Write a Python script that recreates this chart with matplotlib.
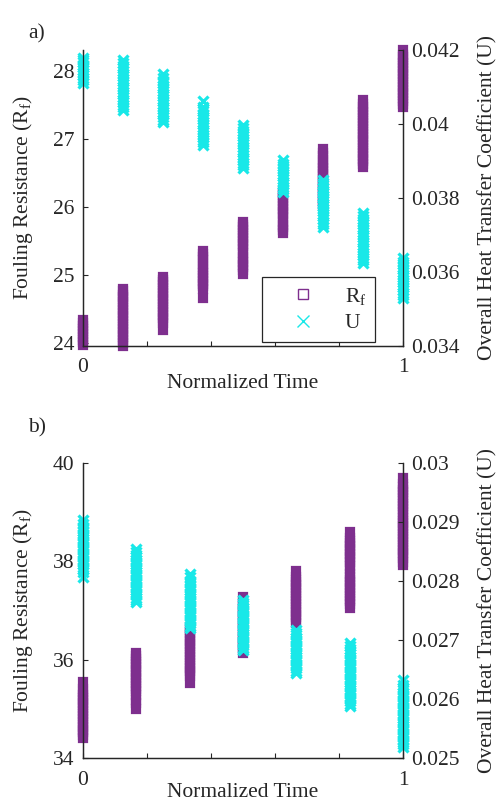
import numpy as np
import matplotlib
matplotlib.use('Agg')
import matplotlib.pyplot as plt
from matplotlib.lines import Line2D
from matplotlib.ticker import FuncFormatter

plt.rcParams['font.family'] = ['Liberation Serif', 'DejaVu Serif']
plt.rcParams['mathtext.fontset'] = 'custom'
plt.rcParams['mathtext.rm'] = 'Liberation Serif'
plt.rcParams['mathtext.it'] = 'Liberation Serif:italic'
plt.rcParams['font.size'] = 15.5

purple = '#7E2F8E'
cyan = '#19E8E8'
txt = '#262626'

# ------------ data panel a ------------ #
times_a = [0, 0.125, 0.25, 0.375, 0.5, 0.625, 0.75, 0.875, 1.0]

rf_a = [
    [23.97, 24.01, 24.05, 24.09, 24.13, 24.17, 24.21, 24.25, 24.29, 24.33],
    [23.96, 24.00, 24.04, 24.08, 24.12, 24.16, 24.20, 24.24, 24.28, 24.32, 24.36, 24.40, 24.44,
     24.48, 24.52, 24.56, 24.60, 24.64, 24.68, 24.71, 24.76, 24.79],
    [24.19, 24.29, 24.33, 24.37, 24.41, 24.45, 24.49, 24.53, 24.57, 24.61, 24.65, 24.69, 24.73,
     24.77, 24.81, 24.85, 24.89, 24.92, 24.97],
    [24.66, 24.79, 24.83, 24.87, 24.91, 24.95, 24.99, 25.03, 25.07, 25.12, 25.16, 25.22, 25.26,
     25.31, 25.35],
    [25.01, 25.07, 25.11, 25.15, 25.19, 25.23, 25.27, 25.33, 25.38, 25.42, 25.46, 25.50, 25.54,
     25.58, 25.62, 25.66, 25.70, 25.73, 25.78],
    [25.62, 25.66, 25.70, 25.74, 25.78, 25.85, 25.89, 25.93, 25.97, 26.01, 26.05, 26.09, 26.13,
     26.17, 26.21, 26.24],
    [26.01, 26.05, 26.09, 26.13, 26.17, 26.21, 26.25, 26.29, 26.33, 26.37, 26.41, 26.45, 26.49,
     26.53, 26.57, 26.61, 26.65, 26.69, 26.75, 26.80, 26.85],
    [26.59, 26.63, 26.67, 26.71, 26.75, 26.79, 26.83, 26.87, 26.91, 26.95, 26.99, 27.03, 27.07,
     27.11, 27.15, 27.19, 27.23, 27.27, 27.31, 27.35, 27.39, 27.43, 27.47, 27.52, 27.57],
    [27.47, 27.51, 27.56, 27.60, 27.64, 27.68, 27.72, 27.76, 27.80, 27.84, 27.88, 27.92, 27.96,
     28.00, 28.04, 28.08, 28.12, 28.16, 28.20, 28.24, 28.31],
]

u_a = [
    [0.04111, 0.04118, 0.04125, 0.04132, 0.04139, 0.04146, 0.04153, 0.04160, 0.04167, 0.04173,
     0.04178],
    [0.04038, 0.04045, 0.04052, 0.04059, 0.04066, 0.04073, 0.04080, 0.04087, 0.04094, 0.04101,
     0.04108, 0.04115, 0.04122, 0.04129, 0.04136, 0.04143, 0.04150, 0.04157, 0.04164, 0.04173],
    [0.04005, 0.04012, 0.04019, 0.04026, 0.04033, 0.04040, 0.04047, 0.04054, 0.04061, 0.04068,
     0.04075, 0.04082, 0.04089, 0.04096, 0.04103, 0.04110, 0.04117, 0.04124, 0.04135],
    [0.03943, 0.03950, 0.03957, 0.03964, 0.03971, 0.03978, 0.03985, 0.03992, 0.03999, 0.04006,
     0.04013, 0.04020, 0.04027, 0.04034, 0.04041, 0.04047, 0.04062],
    [0.03881, 0.03888, 0.03895, 0.03902, 0.03909, 0.03916, 0.03923, 0.03930, 0.03937, 0.03946,
     0.03953, 0.03960, 0.03967, 0.03974, 0.03981, 0.03988, 0.03997],
    [0.03816, 0.03823, 0.03830, 0.03837, 0.03844, 0.03851, 0.03858, 0.03865, 0.03872, 0.03879,
     0.03886, 0.03893, 0.03903],
    [0.03722, 0.03729, 0.03736, 0.03743, 0.03750, 0.03757, 0.03764, 0.03771, 0.03778, 0.03785,
     0.03792, 0.03799, 0.03806, 0.03813, 0.03820, 0.03827, 0.03834, 0.03841, 0.03849],
    [0.03624, 0.03631, 0.03638, 0.03645, 0.03652, 0.03659, 0.03666, 0.03673, 0.03680, 0.03687,
     0.03694, 0.03701, 0.03708, 0.03715, 0.03722, 0.03729, 0.03736, 0.03743, 0.03750, 0.03760],
    [0.03530, 0.03537, 0.03544, 0.03551, 0.03558, 0.03565, 0.03572, 0.03579, 0.03586, 0.03593,
     0.03600, 0.03607, 0.03614, 0.03621, 0.03628, 0.03638],
]

# ------------ data panel b ------------ #
times_b = [0, 0.1667, 0.3333, 0.5, 0.6667, 0.8333, 1.0]

rf_b = [
    [34.41, 34.46, 34.52, 34.57, 34.63, 34.68, 34.74, 34.79, 34.85, 34.90, 34.96, 35.01, 35.07,
     35.12, 35.18, 35.23, 35.29, 35.34, 35.40, 35.55],
    [35.00, 35.11, 35.17, 35.29, 35.36, 35.41, 35.47, 35.52, 35.58, 35.63, 35.69, 35.74, 35.80,
     35.85, 35.91, 35.96, 36.02, 36.07, 36.14],
    [35.53, 35.66, 35.72, 35.77, 35.83, 35.88, 35.94, 35.99, 36.05, 36.10, 36.16, 36.21, 36.27,
     36.32, 36.38, 36.43, 36.49, 36.54, 36.60, 36.66],
    [36.14, 36.20, 36.25, 36.31, 36.36, 36.42, 36.47, 36.53, 36.58, 36.64, 36.69, 36.75, 36.80,
     36.86, 36.91, 36.97, 37.02, 37.08, 37.13, 37.19, 37.27],
    [36.75, 36.80, 36.86, 36.91, 36.97, 37.02, 37.08, 37.13, 37.19, 37.24, 37.30, 37.35, 37.41,
     37.46, 37.52, 37.57, 37.63, 37.68, 37.80],
    [37.05, 37.13, 37.19, 37.24, 37.30, 37.35, 37.41, 37.46, 37.52, 37.57, 37.63, 37.68, 37.74,
     37.84, 37.90, 37.98, 38.04, 38.09, 38.15, 38.20, 38.26, 38.31, 38.37, 38.42, 38.48, 38.60],
    [37.93, 37.99, 38.06, 38.12, 38.17, 38.23, 38.28, 38.34, 38.39, 38.45, 38.50, 38.56, 38.61,
     38.67, 38.72, 38.78, 38.83, 38.89, 38.95, 39.01, 39.06, 39.12, 39.17, 39.23, 39.28, 39.34,
     39.40, 39.46, 39.51, 39.57, 39.69],
]

u_b = [
    [0.02807, 0.02816, 0.02820, 0.02824, 0.02828, 0.02832, 0.02836, 0.02840, 0.02844, 0.02848,
     0.02852, 0.02856, 0.02860, 0.02864, 0.02868, 0.02872, 0.02876, 0.02880, 0.02884, 0.02888,
     0.02892, 0.02896, 0.02903],
    [0.02764, 0.02768, 0.02772, 0.02776, 0.02780, 0.02784, 0.02788, 0.02792, 0.02796, 0.02800,
     0.02804, 0.02808, 0.02812, 0.02816, 0.02820, 0.02824, 0.02828, 0.02832, 0.02836, 0.02840,
     0.02844, 0.02849, 0.02854],
    [0.02720, 0.02724, 0.02728, 0.02732, 0.02736, 0.02740, 0.02744, 0.02748, 0.02752, 0.02756,
     0.02760, 0.02764, 0.02768, 0.02772, 0.02776, 0.02780, 0.02784, 0.02788, 0.02792, 0.02796,
     0.02800, 0.02806, 0.02812],
    [0.02683, 0.02687, 0.02691, 0.02695, 0.02699, 0.02703, 0.02707, 0.02711, 0.02715, 0.02719,
     0.02723, 0.02727, 0.02731, 0.02735, 0.02739, 0.02743, 0.02747, 0.02751, 0.02755, 0.02759,
     0.02763, 0.02768],
    [0.02644, 0.02648, 0.02652, 0.02656, 0.02660, 0.02664, 0.02668, 0.02672, 0.02676, 0.02680,
     0.02684, 0.02688, 0.02692, 0.02696, 0.02700, 0.02704, 0.02708, 0.02712, 0.02717],
    [0.02588, 0.02592, 0.02596, 0.02600, 0.02604, 0.02608, 0.02612, 0.02616, 0.02620, 0.02624,
     0.02628, 0.02632, 0.02636, 0.02640, 0.02644, 0.02648, 0.02652, 0.02656, 0.02660, 0.02664,
     0.02668, 0.02672, 0.02676, 0.02680, 0.02684, 0.02689, 0.02695],
    [0.02519, 0.02523, 0.02527, 0.02531, 0.02535, 0.02539, 0.02543, 0.02547, 0.02551, 0.02555,
     0.02559, 0.02563, 0.02567, 0.02571, 0.02575, 0.02579, 0.02583, 0.02587, 0.02591, 0.02595,
     0.02599, 0.02603, 0.02607, 0.02611, 0.02615, 0.02619, 0.02623, 0.02632],
]

rf_label = 'Fouling Resistance (R$_{\\mathrm{f}}$)'
u_label = 'Overall Heat Transfer Coefficient (U)'
fmt = FuncFormatter(lambda v, p: f'{v:g}')


def panel(fig, rect, times, rf, u, ylim_l, ylim_r, yt_l, yt_r, xlab_y, show_legend):
    ax = fig.add_axes(rect)
    ax2 = ax.twinx()

    # columns of samples (squares are dense enough to read as solid bars)
    for t, vals in zip(times, rf):
        ax.plot([t] * len(vals), vals, 's', ms=5.6, mew=1.6, mfc=purple, mec=purple,
                clip_on=False)
    for t, vals in zip(times, u):
        ax2.plot([t] * len(vals), vals, 'x', ms=7, mew=2.3, color=cyan, clip_on=False)

    ax.set_xlim(0, 1)
    ax.set_ylim(*ylim_l)
    ax2.set_ylim(*ylim_r)
    ax.set_xticks([0, 0.2, 0.4, 0.6, 0.8, 1])
    ax.set_xticklabels(['0', '', '', '', '', '1'])
    ax.set_yticks(yt_l)
    ax2.set_yticks(yt_r)
    ax2.yaxis.set_major_formatter(fmt)

    for a in (ax, ax2):
        a.spines['top'].set_visible(False)
        for s in a.spines.values():
            s.set_color(txt)
            s.set_linewidth(0.9)
        a.tick_params(direction='in', length=3.5, width=0.8, colors=txt, labelsize=15.5)
    ax.tick_params(axis='x', pad=9)
    ax.tick_params(axis='y', pad=6)
    ax2.tick_params(axis='y', pad=6)

    ax.set_xlabel('Normalized Time', color=txt)
    ax.xaxis.set_label_coords(0.5, xlab_y)
    ax.set_ylabel(rf_label, color=txt)
    ax.yaxis.set_label_coords(-0.15, 0.5)
    ax2.set_ylabel(u_label, color=txt)
    ax2.yaxis.set_label_coords(1.235, 0.5)

    if show_legend:
        handles = [
            Line2D([], [], marker='s', ls='none', mfc='none', mec=purple, ms=7, mew=1.0),
            Line2D([], [], marker='x', ls='none', color=cyan, ms=8, mew=1.0),
        ]
        leg = ax2.legend(handles, ['R$_{\\mathrm{f}}$', 'U'], loc='upper left',
                         bbox_to_anchor=(0.559, 0.233), fancybox=False, framealpha=1,
                         edgecolor=txt, borderpad=0.4, handlelength=3.0, handletextpad=0.45,
                         labelspacing=0.3, borderaxespad=0)
        leg.get_frame().set_linewidth(0.9)
        for t in leg.get_texts():
            t.set_color(txt)
    return ax, ax2


fig = plt.figure(figsize=(5.03, 8.07), dpi=100)

panel(fig, [0.1650, 0.5713, 0.6362, 0.3668], times_a, rf_a, u_a,
      (23.955, 28.31), (0.034, 0.042), [24, 25, 26, 27, 28],
      [0.034, 0.036, 0.038, 0.040, 0.042], -0.095, True)
panel(fig, [0.1650, 0.0607, 0.6362, 0.3656], times_b, rf_b, u_b,
      (34, 40), (0.025, 0.030), [34, 36, 38, 40],
      [0.025, 0.026, 0.027, 0.028, 0.029, 0.030], -0.085, False)

fig.text(28 / 503, 1 - 34 / 807, 'a)', va='center', ha='left', color=txt, fontsize=15.5)
fig.text(28 / 503, 1 - 428 / 807, 'b)', va='center', ha='left', color=txt, fontsize=15.5)

fig.savefig('out.png', dpi=100)
